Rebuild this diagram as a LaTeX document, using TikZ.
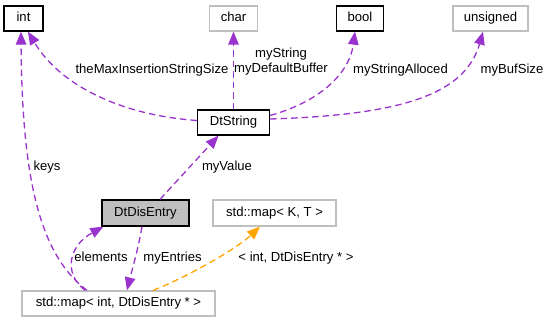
\documentclass[tikz,border=0pt]{standalone}
\usepackage{fontspec}
\setmainfont{Liberation Sans}
\usetikzlibrary{arrows.meta}
\definecolor{edgepurple}{HTML}{9A32CD}
\definecolor{edgeorange}{HTML}{FFA500}
\definecolor{boxgray}{HTML}{BFBFBF}
\tikzset{
  cls/.style={draw=black, line width=1.3pt, fill=white, minimum height=25pt, inner sep=0pt, font=\fontsize{13.1}{15}\selectfont, text height=9.5pt, text depth=2.7pt},
  ext/.style={cls, draw=boxgray},
  cur/.style={cls, fill=boxgray},
  dep/.style={edgepurple, line width=1.3pt, dash pattern=on 6.5pt off 4pt, -{Triangle[length=13pt,width=10.5pt]}},
  tmpl/.style={dep, edgeorange},
  lbl/.style={font=\fontsize{13.1}{15}\selectfont, inner sep=0pt, text height=9.5pt, text depth=2.7pt, align=center}
}
\begin{document}
\begin{tikzpicture}[x=1pt,y=-1pt]
\useasboundingbox (0,0) rectangle (551,323);
% nodes
\node[cls, minimum width=39pt] (int) at (23.5,18.5) {int};
\node[ext, minimum width=48pt] (char) at (233.5,18.5) {char};
\node[cls, minimum width=47pt] (bool) at (360,18.5) {bool};
\node[ext, minimum width=75pt] (unsigned) at (490.5,18.5) {unsigned};
\node[cls, minimum width=72pt] (DtString) at (233.5,122.5) {DtString};
\node[cur, minimum width=87pt, minimum height=26pt] (DtDisEntry) at (145.5,213) {DtDisEntry};
\node[ext, minimum width=123pt, minimum height=26pt] (mapKT) at (274.5,213) {std::map< K, T >};
\node[ext, minimum width=193pt] (mapInt) at (118.5,303.5) {std::map< int, DtDisEntry * >};
% edges
\draw[dep] ([yshift=2pt]DtString.west) .. controls (120,115) and (60,85) .. ([xshift=4.5pt]int.south);
\draw[dep] (DtString.north) -- (char.south);
\draw[dep] ([yshift=7pt]DtString.east) .. controls (325,100) and (350,70) .. ([xshift=-5pt]bool.south);
\draw[dep] ([yshift=3.5pt]DtString.east) .. controls (400,115) and (465,95) .. ([xshift=-7.5pt]unsigned.south);
\draw[dep] ([xshift=14.5pt]DtDisEntry.north) -- ([xshift=-15pt]DtString.south);
\draw[dep] ([xshift=-31.5pt]mapInt.north) .. controls (40,255) and (22,180) .. ([xshift=-2.5pt]int.south);
\draw[dep] ([xshift=-33.5pt]mapInt.north) .. controls (62,272) and (70,245) .. ([xshift=2pt]DtDisEntry.south west);
\draw[dep] ([xshift=-3.5pt]DtDisEntry.south) .. controls (138,250) and (132,270) .. ([xshift=8.5pt]mapInt.north);
\draw[tmpl] ([xshift=34.5pt]mapInt.north) .. controls (185,278) and (235,250) .. ([xshift=-14.5pt]mapKT.south);
% labels
\node[lbl] (lMax) at (152,70) {theMaxInsertionStringSize};
\node[lbl] (lStr) at (281,69.5) {myString\\myDefaultBuffer};
\node[lbl] (lAll) at (400.5,70) {myStringAlloced};
\node[lbl] (lBuf) at (512,70) {myBufSize};
\node[lbl] (lVal) at (227,167) {myValue};
\node[lbl] (lKeys) at (47,167) {keys};
\node[lbl] (lEl) at (101,258) {elements};
\node[lbl] (lEn) at (172.5,258) {myEntries};
\node[lbl] (lTm) at (296,258) {< int, DtDisEntry * >};
\end{tikzpicture}
\end{document}
